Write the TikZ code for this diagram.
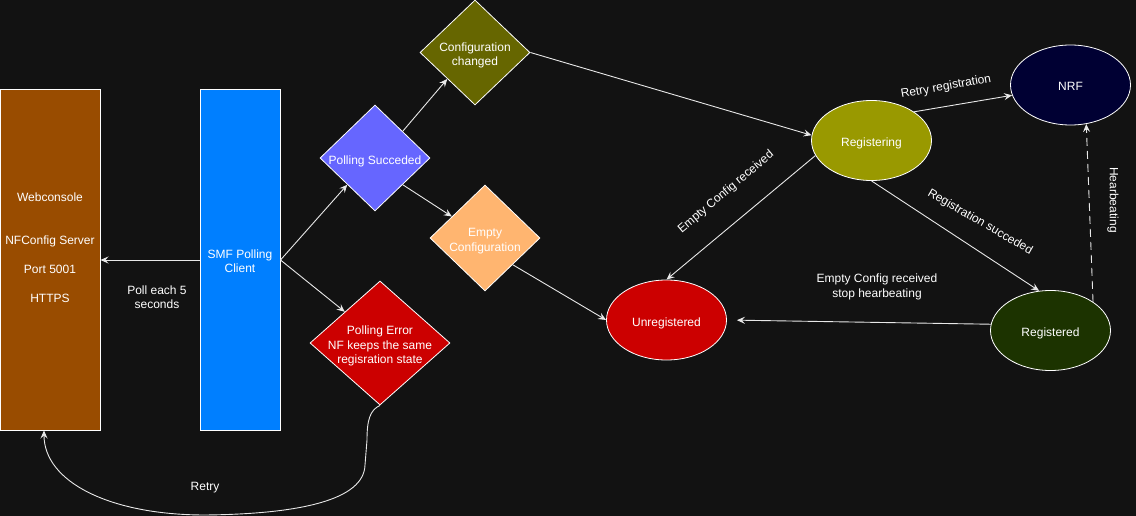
\documentclass[tikz,border=0pt]{standalone}
\usepackage{fontspec}
\setmainfont{Liberation Sans}
\usetikzlibrary{shapes.geometric,arrows.meta}
\definecolor{bg}{HTML}{121212}
\definecolor{wcfill}{HTML}{994C00}
\definecolor{smffill}{HTML}{007FFF}
\definecolor{psfill}{HTML}{6666FF}
\definecolor{ccfill}{HTML}{666600}
\definecolor{ecfill}{HTML}{FFB570}
\definecolor{pefill}{HTML}{CC0000}
\definecolor{regfill}{HTML}{999900}
\definecolor{nrffill}{HTML}{000033}
\definecolor{unfill}{HTML}{CC0000}
\definecolor{rdfill}{HTML}{1C3300}
\definecolor{edge}{HTML}{E8E8E8}
\begin{document}
\begin{tikzpicture}[x=1pt,y=-1pt,
  every node/.style={font=\fontsize{12}{14.4}\selectfont, text=white},
  box/.style={draw=white, line width=1pt, rectangle, inner sep=0pt, align=center},
  dia/.style={draw=white, line width=0.8pt, diamond, inner sep=0pt},
  st/.style={draw=white, line width=0.8pt, ellipse, minimum width=120pt, minimum height=80pt, inner sep=0pt, text height=12pt, text depth=0pt},
  conn/.style={draw=edge, line width=0.9pt, -{Stealth[length=8pt,width=7pt,inset=3pt]}},
  lbl/.style={align=center, inner sep=0pt},
  dlbl/.style={align=center, inner sep=0pt, yshift=-3pt}]
\fill[bg] (0,0) rectangle (1136,516);
\useasboundingbox (0,0) rectangle (1136,516);

% boxes
\node[box, fill=wcfill, minimum width=100pt, minimum height=340pt] (wc) at (50,260) {};
\node[lbl] (wct) at (50,247.5) {Webconsole\\[28.8pt]NFConfig Server\\[14.4pt]Port 5001\\[14.4pt]HTTPS};
\node[box, fill=smffill, minimum width=80pt, minimum height=340pt, label={[lbl, yshift=-1pt]center:SMF Polling\\Client}] (smf) at (240,260) {};

% diamonds
\node[dia, fill=psfill, minimum width=110pt, minimum height=106pt, label={[dlbl]center:Polling Succeded}] (ps) at (375,158) {};
\node[dia, fill=ccfill, minimum width=110pt, minimum height=105pt, label={[dlbl]center:Configuration\\changed}] (cc) at (475,52.5) {};
\node[dia, fill=ecfill, minimum width=110pt, minimum height=106pt, label={[dlbl]center:Empty\\Configuration}] (ec) at (485,238) {};
\node[dia, fill=pefill, minimum width=140pt, minimum height=124pt, label={[dlbl]center:Polling Error\\NF keeps the same\\regisration state}] (pe) at (380,343) {};

% states
\node[st, fill=regfill] (reg) at (871.5,140.5) {Registering};
\node[st, fill=nrffill] (nrf) at (1070.5,85) {NRF};
\node[st, fill=unfill] (unreg) at (666.5,320) {Unregistered};
\node[st, fill=rdfill] (regd) at (1050.5,330.5) {Registered};

% connectors
\draw[conn] (smf.west) -- (wc.east);
\draw[conn] (smf.east) -- (ps.south west);
\draw[conn] (smf.east) -- (pe.north west);
\draw[conn] (ps.north east) -- (cc.south west);
\draw[conn] (ps.south east) -- (ec);
\draw[conn] (cc.east) -- (reg.175);
\draw[conn] (ec.south east) -- (unreg.west);
\draw[conn] (reg.195) -- (unreg.north);
\draw[conn] (reg.south) -- (regd.106);
\draw[conn] (reg.34) -- (nrf.190);
\draw[conn, shorten >=10pt] (regd.174) -- (unreg.east);
\draw[conn, dash pattern=on 8pt off 5pt] (regd.34) -- (nrf.-68);
\draw[conn] (pe.south) .. controls (370,410) and (367,420) .. (367,440)
  -- (365,465) .. controls (364,500) and (300,514) .. (205,515)
  .. controls (110,515) and (44,482) .. ([xshift=-6pt]wc.south);

% labels
\node[lbl] (lpoll) at (157,297) {Poll each 5\\seconds};
\node[lbl] (lretry) at (205,488) {Retry};
\node[lbl, rotate=10] (lrr) at (946,87) {Retry registration};
\node[lbl, rotate=40] (lecr) at (726,192) {Empty Config received};
\node[lbl, rotate=-30] (lrs) at (980,222) {Registration succeded};
\node[lbl] (lecs) at (877,287) {Empty Config received\\stop hearbeating};
\node[lbl, rotate=-90] (lhb) at (1113,200) {Hearbeating};
\end{tikzpicture}
\end{document}
